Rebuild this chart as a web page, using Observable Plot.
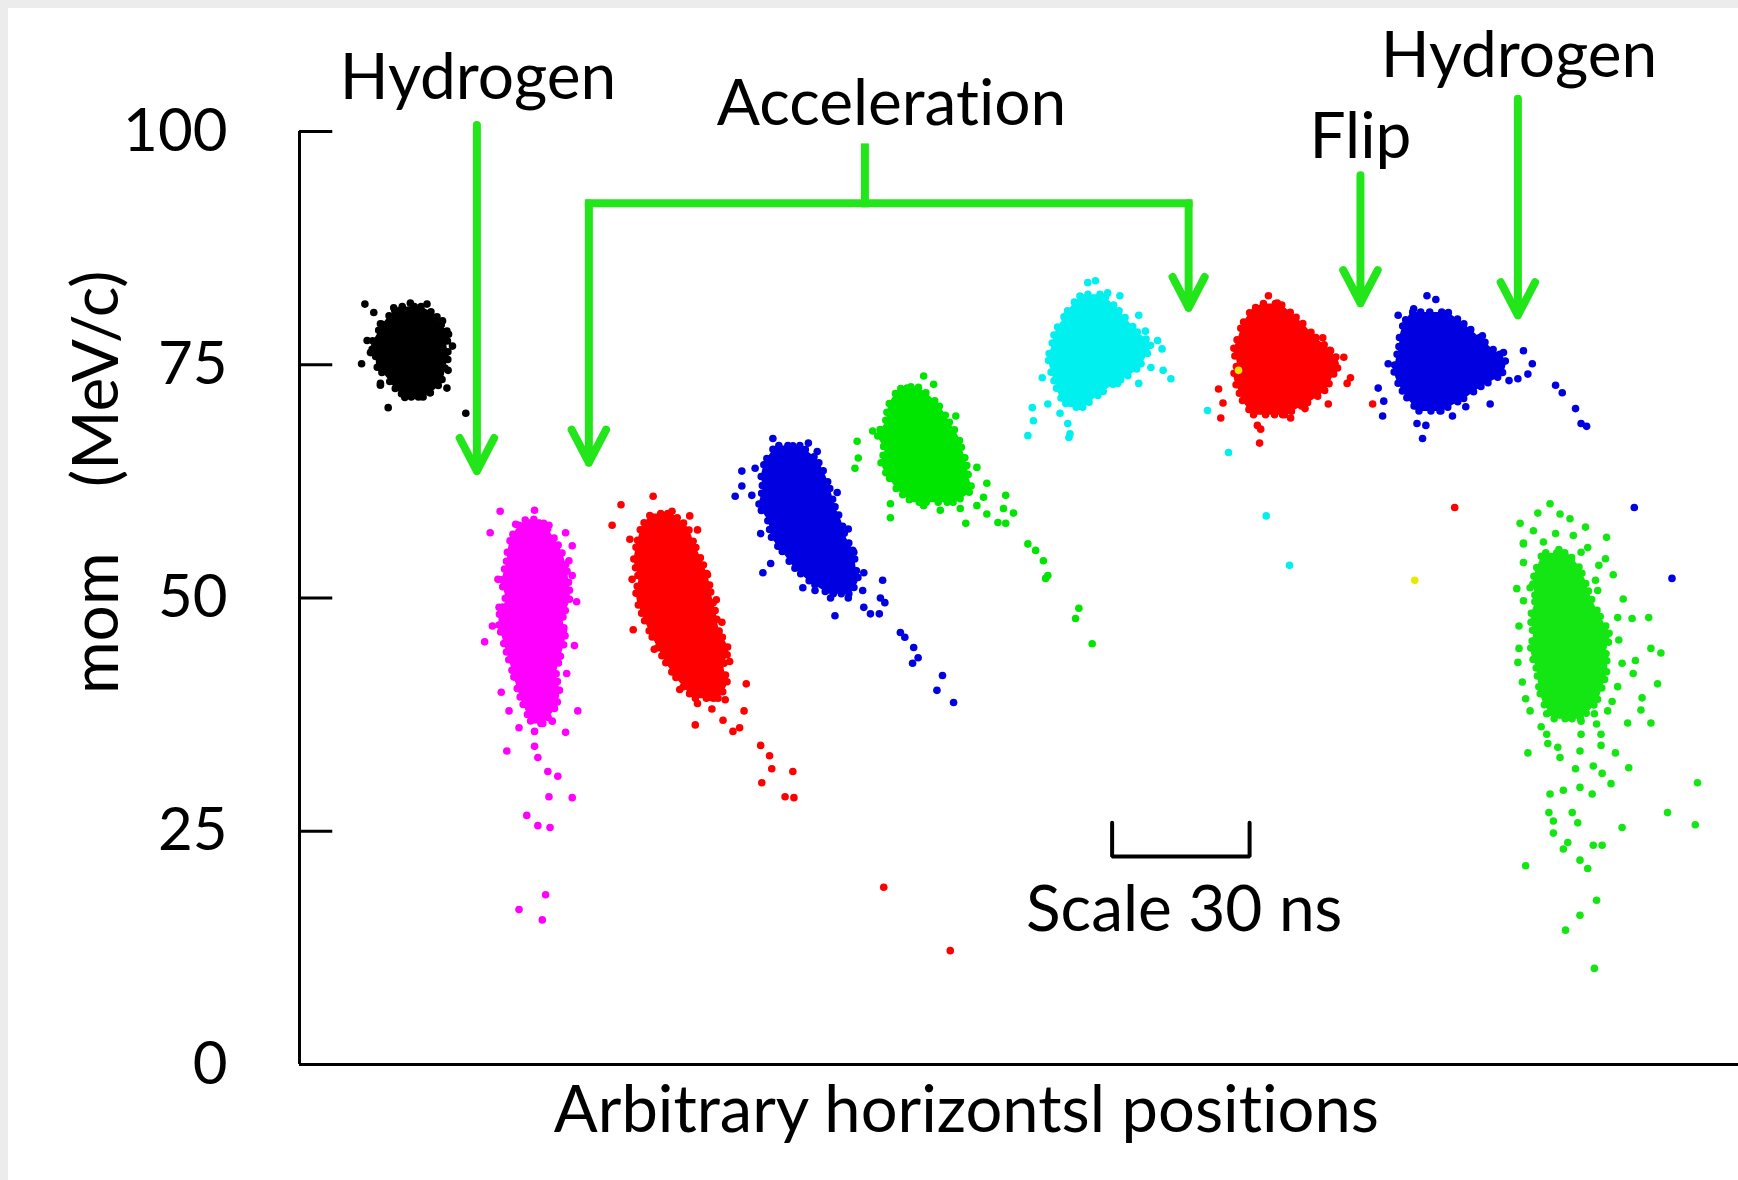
<!DOCTYPE html>
<html><head><meta charset="utf-8">
<script src="https://cdn.jsdelivr.net/npm/d3@7"></script>
<script src="https://cdn.jsdelivr.net/npm/@observablehq/plot@0.6"></script>
<style>
html,body{margin:0;padding:0;background:#fff;}
#wrap{position:relative;width:1738px;height:1180px;overflow:hidden;background:#fff;}
#wrap svg{position:absolute;left:0;top:0;z-index:1;}
#wrap svg text{font-variant-ligatures:none;}
.strip{position:absolute;background:#ececec;z-index:2;}
</style></head><body>
<div id="wrap"><div class="strip" style="left:0;top:0;width:1738px;height:8px"></div><div class="strip" style="left:0;top:0;width:8px;height:1180px"></div></div>
<script>
// ---------- data (x: arbitrary horizontal position, y: mom in MeV/c) ----------
const yTicks = [0, 25, 50, 75, 100];
const clusterIds = ["black","magenta","red1","blue1","green1","cyan","red2","blue2","green2","yellow"];

// dense cores: [y, x1, x2] rows
const blackCore   = [[71.5,9.6,11.2],[72.5,8.6,12.4],[73.6,7.9,13.0],[74.8,7.0,13.2],[75.9,6.9,13.5],[77.0,6.5,13.3],[78.2,7.0,13.5],[79.3,7.5,12.8],[80.3,8.2,12.3],[81.2,9.0,11.0]];
const magentaCore = [[36.5,21.0,22.0],[38.0,20.4,23.0],[39.8,19.8,23.5],[41.8,19.3,23.2],[43.8,18.8,23.6],[45.8,18.3,24.0],[47.8,18.0,23.8],[49.8,18.6,24.4],[51.8,18.3,24.3],[53.8,18.7,24.0],[55.6,18.9,23.4],[57.4,19.6,22.4],[58.4,20.5,21.8]];
const red1Core    = [[39.2,35.6,37.8],[40.8,34.4,38.6],[42.6,33.3,38.3],[44.5,32.4,38.7],[46.4,31.6,37.9],[48.3,30.9,37.6],[50.2,30.4,37.2],[52.1,30.6,36.9],[54.0,30.2,36.3],[55.9,30.5,35.6],[57.6,30.9,35.0],[59.0,31.8,33.6]];
const blue1Core   = [[50.4,47.8,49.6],[51.8,46.0,50.4],[53.3,44.6,50.2],[54.9,43.6,50.0],[56.5,42.6,49.3],[58.2,42.3,48.9],[59.9,41.5,48.3],[61.6,41.8,47.9],[63.3,41.7,47.4],[64.9,42.2,46.6],[66.3,43.0,45.2]];
const green1Core  = [[60.2,55.4,59.0],[61.5,54.0,60.6],[62.9,53.2,60.4],[64.4,52.5,60.2],[65.9,52.8,59.8],[67.4,52.2,59.4],[68.9,52.9,58.6],[70.3,53.1,57.9],[71.6,53.6,56.9],[72.6,54.5,55.8]];
const cyanCore    = [[70.4,69.5,70.7],[71.6,68.6,72.0],[72.9,68.2,73.5],[74.3,67.8,75.4],[75.7,67.6,76.3],[77.1,67.9,76.8],[78.5,68.2,75.6],[79.9,68.9,74.6],[81.2,69.6,73.6],[82.5,70.6,72.5]];
const red2Core    = [[69.6,86.1,88.9],[70.9,85.2,91.0],[72.3,84.7,92.6],[73.7,84.3,93.2],[75.1,84.6,93.8],[76.5,84.3,93.0],[77.9,84.7,91.7],[79.3,85.1,90.6],[80.6,85.8,89.4],[81.5,86.8,88.5]];
const blue2Core   = [[70.0,101.0,103.0],[71.3,100.0,105.0],[72.6,99.3,106.6],[74.0,98.8,108.5],[75.4,98.9,108.8],[76.8,99.2,107.5],[78.2,99.3,106.2],[79.5,99.7,104.9],[80.6,100.3,103.6]];
const green2Core  = [[37.0,113.2,115.6],[38.8,112.2,117.0],[40.6,111.8,117.6],[42.4,111.6,118.0],[44.2,111.1,117.9],[46.0,111.3,118.2],[47.9,111.1,117.4],[49.8,111.5,116.6],[51.7,111.3,116.0],[53.4,111.7,115.4],[54.8,112.2,114.4]];

// individual hits: [x, y]
const blackDots = [[5.6,75.1],[8.0,70.4],[15.0,69.8],[5.9,81.5],[6.7,80.6],[7.3,73.0],[10.0,81.6],[11.5,81.5],[12.9,79.7],[13.3,78.6],[13.8,77.0],[13.4,74.4],[13.3,72.5],[11.8,72.0],[9.5,71.5],[7.3,72.8],[6.4,76.3],[6.1,77.6],[7.3,79.4],[8.5,81.1]];
const magentaDots = [[18.1,59.3],[21.2,59.4],[17.2,57.0],[19.5,57.9],[22.5,57.8],[24.0,57.0],[24.6,55.6],[24.6,52.4],[25.0,49.6],[17.4,47.0],[16.7,45.3],[24.8,44.9],[24.1,41.9],[18.2,39.9],[18.9,37.9],[25.1,37.9],[19.8,36.1],[21.2,35.7],[24.0,35.6],[18.7,33.6],[21.2,34.1],[21.5,32.9],[22.4,31.4],[23.3,30.9],[22.5,28.7],[24.6,28.6],[20.5,26.7],[21.5,25.6],[22.6,25.4],[22.2,18.2],[19.8,16.6],[21.9,15.5],[17.9,52.0],[18.0,49.0],[24.3,54.0],[23.8,46.5],[19.5,41.5],[22.8,36.8]];
const red1Dots = [[29.0,60.0],[31.9,60.9],[33.6,59.3],[35.2,58.8],[35.9,57.3],[28.2,57.8],[29.8,56.3],[30.1,46.6],[38.1,47.4],[38.8,43.2],[40.3,40.8],[34.3,40.2],[35.9,38.7],[37.2,38.1],[38.4,39.1],[40.1,37.9],[35.7,36.4],[38.2,36.9],[39.1,35.7],[39.7,36.1],[41.6,34.2],[42.4,33.1],[42.6,31.7],[44.5,31.4],[41.7,30.2],[43.8,28.7],[44.6,28.6],[52.7,19.0],[58.7,12.2],[30.0,52.0],[36.8,52.5],[37.6,49.8],[32.0,44.5]];
const blue1Dots = [[42.7,67.1],[44.5,66.3],[45.9,66.6],[46.7,65.7],[39.9,63.6],[41.1,63.9],[39.9,62.0],[39.3,60.9],[40.8,61.0],[48.5,61.3],[49.5,57.4],[41.6,56.9],[41.8,52.7],[42.5,53.7],[50.0,54.9],[50.9,52.7],[52.6,51.9],[45.4,51.1],[46.5,50.8],[47.9,50.0],[49.5,50.0],[50.8,50.8],[48.3,48.1],[50.9,49.0],[51.5,48.3],[52.3,48.3],[52.4,50.0],[52.8,49.5],[54.2,46.3],[54.6,45.8],[55.4,44.7],[55.8,43.6],[55.3,43.0],[58.0,41.7],[57.5,40.1],[59.0,38.8]];
const green1Dots = [[56.3,73.8],[57.2,72.9],[54.8,72.5],[59.2,69.5],[51.7,67.9],[50.3,66.8],[50.4,65.0],[50.1,63.9],[61.1,64.0],[62.0,62.3],[63.7,61.0],[61.7,60.8],[53.3,60.1],[53.3,58.6],[56.3,59.9],[57.8,59.4],[59.6,59.6],[60.1,58.0],[61.1,59.9],[62.0,59.0],[63.0,58.1],[63.7,58.0],[63.5,59.6],[64.4,59.1],[65.7,55.8],[66.4,55.1],[67.1,54.0],[67.5,52.4],[67.3,52.1],[70.3,48.9],[70.0,47.8],[71.5,45.1]];
const cyanDots = [[71.1,83.8],[71.8,84.0],[72.9,82.7],[74.0,82.4],[75.7,80.3],[76.3,78.6],[77.4,77.6],[77.8,76.7],[76.8,74.7],[77.9,74.4],[78.6,73.5],[75.7,73.0],[73.8,73.0],[67.0,73.6],[66.1,70.4],[66.2,69.0],[65.7,67.4],[67.5,70.8],[68.6,69.8],[69.3,68.7],[69.5,67.6],[69.4,67.2],[81.9,70.1],[83.8,65.6],[87.2,58.8],[89.3,53.5]];
const red2Dots = [[87.4,82.4],[88.2,81.6],[86.2,80.8],[92.3,77.9],[93.0,76.5],[94.2,75.8],[94.8,73.6],[94.5,73.0],[82.9,72.4],[83.3,70.9],[83.1,69.3],[92.8,70.8],[90.7,70.3],[89.4,69.3],[86.4,68.5],[86.7,68.1],[86.6,66.6],[96.8,70.8],[104.2,59.7]];
const blue2Dots = [[101.7,82.4],[102.5,82.0],[100.5,81.0],[99.1,80.3],[106.7,78.1],[110.4,76.5],[108.6,76.3],[111.2,75.1],[110.8,74.0],[109.9,73.5],[109.1,73.3],[98.2,75.1],[97.3,72.5],[97.8,71.1],[97.7,69.5],[100.8,68.7],[101.6,68.5],[101.3,67.1],[104.0,69.5],[105.2,70.5],[107.4,70.8],[113.3,72.8],[113.9,72.0],[115.1,70.3],[115.6,68.7],[116.1,68.4],[120.4,59.7],[123.8,52.1]];
const green2Dots = [[112.8,60.1],[111.7,59.1],[113.7,59.0],[114.6,58.5],[110.4,55.9],[117.8,54.2],[119.4,49.9],[118.9,47.9],[120.2,47.8],[121.7,47.9],[110.0,47.0],[109.9,43.1],[121.9,44.6],[122.8,44.1],[120.5,43.3],[120.3,41.9],[122.5,40.8],[121.1,39.3],[121.0,38.0],[119.8,36.6],[121.9,36.6],[110.8,33.4],[112.6,34.4],[113.7,32.9],[115.5,33.6],[117.4,34.2],[118.7,33.4],[116.7,32.0],[119.9,31.8],[115.1,31.7],[117.5,31.2],[118.3,30.1],[112.8,29.0],[114.0,29.4],[115.5,29.7],[116.6,29.0],[112.7,27.0],[114.8,27.0],[113.1,26.1],[115.3,25.9],[113.1,24.8],[114.4,23.8],[114.0,23.1],[116.7,23.5],[117.5,23.5],[119.3,25.4],[115.5,21.9],[116.2,21.0],[110.6,21.3],[117.0,17.6],[115.5,16.0],[114.2,14.4],[116.8,10.3],[126.1,30.2],[123.4,27.0],[125.9,25.7],[111.3,57.2],[113.3,56.9],[114.9,56.7],[110.4,55.8],[112.2,56.0],[113.6,55.2],[115.6,54.9],[116.2,55.4],[110.4,53.8],[111.8,52.9],[113.1,53.3],[114.7,54.0],[114.2,51.9],[115.6,51.9],[116.9,51.9],[111.0,51.1],[112.5,50.8],[113.8,50.3],[110.4,49.7],[111.9,48.8],[116.2,49.9],[117.1,50.8],[111.0,37.9],[112.5,37.6],[114.0,37.9],[115.6,36.8],[116.8,37.6],[118.0,37.9],[112.5,35.4],[113.5,34.0],[115.6,35.4],[117.4,35.4],[110.0,44.6],[110.3,41.0],[110.6,39.2],[119.0,45.5],[119.3,43.0],[118.9,40.5],[118.4,38.9],[117.2,53.5],[109.8,51.0],[110.1,58.0],[116.0,57.6],[117.9,56.5],[118.5,52.5],[112.0,36.2],[117.0,36.5]];
const yellowDots = [[84.7,74.4],[100.6,51.9]];

// annotations (data coordinates)
const labels = [
  {text: "Hydrogen", x: 16.1, y: 103.5},
  {text: "Acceleration", x: 53.4, y: 100.7},
  {text: "Flip", x: 95.7, y: 97.2},
  {text: "Hydrogen", x: 110.0, y: 105.8},
  {text: "Scale 30 ns", x: 79.8, y: 14.3}
];
const arrows = [
  {x: 16.0, y1: 100.7, y2: 63.6},
  {x: 26.1, y1: 92.3, y2: 64.5},
  {x: 80.2, y1: 92.3, y2: 81.1},
  {x: 95.7, y1: 95.3, y2: 81.6},
  {x: 109.9, y1: 103.5, y2: 80.3}
];
const bracket = [
  {x1: 26.1, x2: 80.2, y1: 92.3, y2: 92.3},
  {x1: 51.0, x2: 51.0, y1: 98.3, y2: 92.3}
];
const scaleBar = [[73.3,25.9],[73.3,22.3],[85.7,22.3],[85.7,25.9]];
const xLabel = {text: "Arbitrary horizontsl positions", x: 60.15, y: -7.2};
const yLabel = {text: "mom\u00a0\u00a0\u00a0\u00a0(MeV/c)", x: -18.25, y: 62.4};

// ---------- styles ----------
const clusterColors = ["#000000","#ff00ff","#ff0000","#0000e0","#00e600","#00f0f0","#ff0000","#0000e0","#14e614","#e8e800"];
const green = "#22e61a";
const tickLen = 3;

const cores = [blackCore, magentaCore, red1Core, blue1Core, green1Core, cyanCore, red2Core, blue2Core, green2Core];
const dotSets = [blackDots, magentaDots, red1Dots, blue1Dots, green1Dots, cyanDots, red2Dots, blue2Dots, green2Dots, yellowDots];
const coreRows = cores.flatMap((rows, i) => rows.map(([y, x1, x2]) => ({cluster: clusterIds[i], y, x1, x2})));
const dots = dotSets.flatMap((pts, i) => pts.map(([x, y]) => ({cluster: clusterIds[i], x, y})));

const chart = Plot.plot({
  width: 1738, height: 1180,
  marginLeft: 299, marginRight: 0, marginTop: 131, marginBottom: 116,
  x: {domain: [0, 129.8], axis: null},
  y: {domain: [0, 100]},
  color: {domain: clusterIds, range: clusterColors},
  style: {fontFamily: "Lato, 'Open Sans', sans-serif", fontSize: "64px", background: "transparent", color: "#000"},
  marks: [
    Plot.areaX(coreRows, {y: "y", x1: "x1", x2: "x2", z: "cluster", fill: "cluster", stroke: "cluster",
      strokeWidth: 7.5, strokeDasharray: "0 8 0 11 0 7 0 12 0 9", strokeLinecap: "round", curve: "catmull-rom"}),
    Plot.dot(dots, {x: "x", y: "y", r: 3.8, fill: "cluster"}),
    Plot.ruleX([0], {y1: 0, y2: 100, stroke: "#000", strokeWidth: 3}),
    Plot.ruleY([0], {stroke: "#000", strokeWidth: 3}),
    Plot.ruleY(yTicks.slice(1), {y: d => d, x1: 0, x2: tickLen, stroke: "#000", strokeWidth: 3}),
    Plot.axisY({ticks: yTicks, tickSize: 0, tickPadding: 72, fontSize: 60, label: null, anchor: "left"}),
    Plot.link(bracket, {x1: "x1", x2: "x2", y1: "y1", y2: "y2", stroke: green, strokeWidth: 8, strokeLinecap: "square"}),
    Plot.arrow(arrows, {x1: "x", x2: "x", y1: "y1", y2: "y2", stroke: green, strokeWidth: 8,
      headLength: 7, headAngle: 55, strokeLinejoin: "round"}),
    Plot.line(scaleBar, {x: d => d[0], y: d => d[1], stroke: "#000", strokeWidth: 4, strokeLinejoin: "miter"}),
    Plot.text(labels, {x: "x", y: "y", text: "text", fontSize: 64, lineAnchor: "bottom", fill: "#000"}),
    Plot.text([xLabel], {x: "x", y: "y", text: "text", fontSize: 65, lineAnchor: "bottom", fill: "#000"}),
    Plot.text([yLabel], {x: "x", y: "y", text: "text", fontSize: 64, rotate: -90, lineAnchor: "middle", fill: "#000"})
  ]
});
document.getElementById("wrap").prepend(chart);
</script>
</body></html>
